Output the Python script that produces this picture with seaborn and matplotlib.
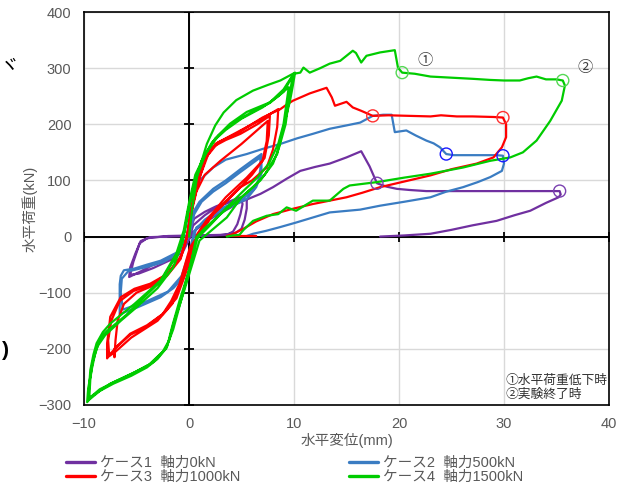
import matplotlib
matplotlib.use("Agg")
import matplotlib.pyplot as plt
import pandas as pd
import seaborn as sns
from matplotlib.lines import Line2D

# ---------------- data ----------------
case_labels = ["ケース1  軸力0kN", "ケース2  軸力500kN", "ケース3  軸力1000kN", "ケース4  軸力1500kN"]
case_colors = ["#7030A0", "#3A7CC2", "#FF0000", "#00CC00"]
marker_colors = ["#7A40B0", "#1A1AFF", "#FF3030", "#55D855"]

case1_x = [0, 0.2, 0.5, 1.5, 2.6, 3.9, 4.9, 5.1, 4.9, 4.6, 4.2, 3.6, 2.0, 0.0, -2.0, -3.7, -4.6, -5.1, -5.6, -5.7,
           -4.6, -3.6, -1.7, -0.5, 0.4, 1.5, 2.6, 3.8, 4.7, 5.5,
           5.5, 5.3, 5.0, 4.4, 3.0, 0.5, -2.0, -4.0, -4.7, -5.3, -5.6, -4.8, -3.4, -1.8, -0.6, 0.0,
           0.4, 1.5, 2.6, 4.0, 5.5, 6.8, 8.0, 9.3, 10.6, 12.0, 13.4, 15.0, 16.4, 17.2, 17.9, 18.8, 19.8, 21.0, 22.6,
           25.0, 28.0, 31.0, 33.0, 35.3, 35.4, 35.2, 34.0, 32.5, 31.0, 29.3, 27.0, 25.0, 23.0, 20.5, 18.2]
case1_y = [0, 18, 32, 44, 54, 63, 70, 58, 40, 22, 9, 3, 2, 1, 0, -1, -8, -30, -55, -72,
           -62, -52, -37, -20, 8, 25, 38, 50, 60, 66,
           50, 30, 14, 6, 3, 2, 1, -3, -12, -45, -68, -66, -56, -42, -28, -5,
           20, 38, 52, 62, 66, 76, 88, 103, 117, 124, 130, 141, 152, 125, 95, 89, 85, 83, 81,
           81, 81, 81, 81, 81, 75, 70, 60, 46, 38, 28, 20, 12, 5, 2, 0]

case2_x = [0, 0.3, 1.0, 2.3, 3.5, 4.9, 6.0, 6.9, 6.9, 6.9, 6.4, 5.5, 4.2, 3.0, 1.8, 0.7, 0.2, -0.5, -1.5, -2.7, -4.9, -6.6,
           -6.6, -6.6, -6.5, -6.2, -5.2, -4.0, -2.7, -0.8, 0.0, 0.5, 1.2, 2.3, 3.5, 4.9, 6.0, 6.8,
           6.8, 6.6, 6.2, 5.0, 3.0, 1.5, 0.5, 0.0, -0.7, -2.0, -4.0, -6.3, -6.5, -6.4, -5.8, -4.0, -2.5, -1.0, -0.2,
           0.0, 0.2, 1.0, 2.3, 3.5, 5.5, 7.0, 8.7, 10.3, 11.8, 13.4, 15.0, 16.3, 17.5, 18.5, 19.3, 19.6, 20.7, 21.6,
           22.6, 23.3, 23.9, 24.5, 25.2, 27.0, 29.3, 29.9, 30.0, 29.8, 28.7, 27.5, 26.1, 24.5, 23.0, 20.5, 18.2, 16.3,
           13.4, 11.8, 10.2, 8.7, 7.3, 6.1, 5.5]
case2_y = [0, 40, 62, 85, 100, 120, 135, 147, 130, 112, 88, 67, 55, 46, 30, 16, -20, -72, -92, -108, -126, -138,
           -110, -85, -70, -60, -57, -50, -43, -25, 0, 40, 62, 80, 95, 115, 130, 141,
           120, 100, 85, 65, 50, 30, 10, -30, -70, -98, -115, -130, -100, -75, -62, -54, -46, -30, 0,
           30, 70, 100, 123, 137, 147, 156, 165, 175, 183, 192, 198, 203, 215, 217, 217, 186, 189, 180,
           171, 166, 159, 147, 145, 145, 145, 144, 130, 117, 106, 97, 88, 80, 70, 62, 55, 48,
           43, 34, 25, 17, 10, 5, 1]

case3_x = [0, 0.2, 0.7, 1.5, 3.0, 5.0, 7.5,
           7.4, 7.0, 5.5, 3.5, 1.7, 0.8, 0.3, -0.4, -1.2, -2.5, -4.0, -5.6, -7.1, -7.1,
           -7.0, -6.8, -6.2, -5.0, -3.5, -2.1, -0.8, -0.2,
           0.2, 0.8, 1.4, 2.3, 3.5, 4.9, 6.5, 7.7,
           7.6, 7.2, 6.0, 4.9, 3.5, 2.3, 1.0, 0.1, -0.9, -1.7, -2.5, -4.0, -5.6, -6.8, -7.5, -7.8,
           -7.8, -7.6, -7.5, -6.5, -5.2, -3.7, -2.1, -0.8, -0.2,
           0.3, 1.0, 1.6, 2.5, 4.5, 6.5, 8.5,
           8.4, 8.0, 7.4, 6.0, 4.9, 3.5, 2.3, 1.0, 0.2, -0.7, -1.6, -3.0, -5.5, -7.0, -7.6,
           -7.7, -7.4, -6.6, -5.3, -3.6, -2.0, -0.7, -0.1,
           0.4, 1.1, 1.8, 2.8, 4.5, 7.0, 8.7,
           9.3, 9.9, 11.5, 13.1, 13.6, 13.9, 15.0, 15.6, 16.4, 17.5, 19.0, 21.0, 23.0, 24.0, 25.5, 27.0, 29.0, 29.9,
           30.2, 30.2, 29.8, 29.0, 27.4, 25.0, 23.0, 20.5, 18.2, 16.5, 15.0, 13.4, 11.8, 10.0, 8.0, 6.4, 5.0, 4.0,
           3.6, 5.0, 6.4]
case3_y = [0, 40, 80, 110, 135, 165, 206,
           170, 135, 105, 70, 30, 5, -30, -70, -110, -138, -158, -173, -200, -215,
           -185, -150, -120, -100, -88, -70, -40, 0,
           50, 100, 135, 160, 172, 183, 200, 215,
           180, 140, 110, 88, 62, 40, 5, -19, -84, -115, -138, -160, -175, -195, -209, -217,
           -190, -160, -143, -108, -93, -84, -67, -37, -1,
           55, 105, 140, 165, 185, 205, 227,
           195, 155, 123, 100, 88, 62, 40, 5, -25, -80, -120, -150, -180, -205, -213,
           -185, -150, -115, -97, -86, -66, -33, 5,
           60, 110, 145, 168, 183, 212, 227,
           235, 242, 255, 265, 248, 233, 240, 230, 224, 215, 216, 215, 214, 216, 214, 214, 213, 212,
           200, 177, 159, 141, 130, 120, 109, 98, 88, 78, 70, 64, 58, 50, 40, 27, 12, 3,
           1, 1, 1]

case4_x = [0, 0.3, 0.8, 1.7, 2.5, 3.3, 4.5, 6.1, 7.5, 8.7, 10.1,
           9.9, 9.6, 9.3, 8.8, 8.4, 7.2, 6.1, 4.5, 3.0, 1.5, 0.7, 0.1, -0.9, -1.6, -2.1, -3.0, -4.0, -5.5, -7.2, -8.5, -9.6,
           -9.5, -9.4, -9.1, -8.8, -8.2, -7.5, -5.2, -4.0, -2.7, -1.2, -0.5, 0.0, 0.6, 1.5, 2.5, 3.9, 5.5, 7.7, 9.0, 9.9,
           9.6, 9.2, 8.6, 8.0, 6.8, 5.0, 3.6, 2.2, 1.0, 0.3, -0.6, -1.4, -1.9, -2.5, -3.8, -5.5, -7.0, -8.5, -9.5,
           -9.4, -9.2, -8.7, -8.0, -6.5, -5.0, -3.0, -1.5, -0.6, -0.1, 0.5, 1.2, 2.2, 3.5, 5.0, 7.0, 8.5, 9.5,
           9.3, 9.0, 8.5, 7.6, 6.5, 5.0, 3.5, 2.0, 0.8, 0.2, -0.7, -1.5, -2.2, -3.5, -5.0, -7.5, -9.3, -9.7,
           -9.6, -9.3, -8.9, -8.4, -7.8, -6.0, -4.5, -2.7, -1.2, -0.4, 0.1, 0.7, 1.6, 2.8, 4.0, 6.0, 7.7, 9.0, 10.0,
           10.6, 10.9, 11.5, 12.5, 13.4, 14.4, 15.6, 15.9, 16.4, 16.9, 18.2, 19.6, 19.9, 20.3, 21.5, 23.0, 25.0, 27.0,
           28.7, 30.0, 31.5, 32.3, 33.1, 34.0, 35.0, 35.6, 35.8, 35.5, 34.4, 33.1, 31.8, 30.6, 28.7, 26.1, 23.0, 20.5,
           17.9, 15.3, 14.7, 13.4, 11.8, 10.2, 9.3, 8.5, 7.4, 6.1, 5.2, 4.8, 4.2, 3.6]
case4_y = [0, 50, 110, 165, 198, 221, 243, 260, 270, 278, 292,
           270, 240, 218, 180, 147, 110, 88, 62, 40, 15, -1, -55, -114, -160, -197, -218, -233, -248, -262, -275, -292,
           -265, -238, -210, -190, -170, -155, -120, -100, -78, -30, 11, 60, 110, 145, 175, 201, 222, 239, 262, 288,
           255, 200, 160, 130, 100, 70, 34, 12, -7, -50, -105, -150, -185, -205, -228, -245, -258, -272, -288,
           -255, -225, -195, -176, -150, -126, -92, -55, -10, 45, 95, 135, 168, 190, 210, 230, 250, 266,
           240, 200, 165, 130, 105, 78, 50, 20, -3, -45, -110, -165, -200, -225, -240, -262, -285, -295,
           -270, -240, -205, -180, -168, -140, -112, -80, -35, 10, 60, 105, 148, 180, 200, 222, 238, 258, 290,
           292, 301, 292, 300, 308, 313, 331, 327, 310, 322, 328, 332, 301, 292, 290, 285, 283, 281,
           279, 278, 278, 282, 285, 280, 280, 278, 269, 242, 206, 171, 150, 141, 135, 123, 112, 105,
           97, 91, 85, 64, 64, 46, 52, 40, 37, 28, 12, 3, 2, 0]

# load-drop (①) and test-end (②) points
marker_x = [17.9, 35.3, 24.5, 29.9, 17.5, 29.9, 20.3, 35.6]
marker_y = [95, 81, 147, 144, 215, 212, 292, 278]
marker_case = [0, 0, 1, 1, 2, 2, 3, 3]

x_ticks = [-10, 0, 10, 20, 30, 40]
y_ticks = [-300, -200, -100, 0, 100, 200, 300, 400]
x_label = "水平変位(mm)"
y_label = "水平荷重(kN)"
note_lines = ["①水平荷重低下時", "②実験終了時"]

# ---------------- build frame ----------------
all_x = [case1_x, case2_x, case3_x, case4_x]
all_y = [case1_y, case2_y, case3_y, case4_y]
frames = []
for lab, xs, ys in zip(case_labels, all_x, all_y):
    frames.append(pd.DataFrame({"x": xs, "y": ys, "case": lab, "order": range(len(xs))}))
df = pd.concat(frames, ignore_index=True)

sns.set_theme(style="white")
plt.rcParams["font.family"] = ["Liberation Sans", "Noto Sans CJK JP", "DejaVu Sans"]

fig = plt.figure(figsize=(6.25, 4.88), dpi=100)
ax = fig.add_axes([84 / 625, 1 - 405 / 488, 525 / 625, 393 / 488])

ax.set_axisbelow(True)
ax.grid(True, color="#d9d9d9", lw=1.0)

sns.lineplot(data=df, x="x", y="y", hue="case", hue_order=case_labels, palette=case_colors,
             sort=False, estimator=None, lw=1.6, legend=False, ax=ax, zorder=3)

for ci in range(4):
    mx = [marker_x[i] for i in range(len(marker_x)) if marker_case[i] == ci]
    my = [marker_y[i] for i in range(len(marker_y)) if marker_case[i] == ci]
    sns.scatterplot(x=mx, y=my, color=marker_colors[ci], facecolor="none", edgecolor=marker_colors[ci],
                    s=75, linewidth=1.0, ax=ax, zorder=4)

# center axes with cross ticks
ax.axhline(0, color="black", lw=1.4, zorder=2)
ax.axvline(0, color="black", lw=1.4, zorder=2)
ax.plot(x_ticks, [0] * len(x_ticks), ls="none", marker="|", ms=7, mew=1.3, color="black", zorder=2)
ax.plot([0] * len(y_ticks), y_ticks, ls="none", marker="_", ms=7, mew=1.3, color="black", zorder=2)

ax.set_xlim(-10, 40)
ax.set_ylim(-300, 400)
ax.set_xticks(x_ticks)
ax.set_yticks(y_ticks)
ax.tick_params(length=0, labelsize=10.5, labelcolor="#595959")
ax.tick_params(axis="y", pad=9)
ax.tick_params(axis="x", pad=9)
for sp in ax.spines.values():
    sp.set_color("black")
    sp.set_linewidth(1.2)

ax.set_xlabel(x_label, fontsize=10.5, color="#595959")
ax.set_ylabel(y_label, fontsize=10.5, color="#595959")
ax.xaxis.set_label_coords(0.5, -0.072)
ax.yaxis.set_label_coords(-0.088, 0.5)

# circled annotations
ax.text(22.5, 313, "①", fontsize=11, color="#404040", ha="center", va="center", zorder=5)
ax.text(37.7, 301, "②", fontsize=11, color="#404040", ha="center", va="center", zorder=5)
ax.text(30.15, -257, note_lines[0], fontsize=9.2, color="#303030", ha="left", va="center", zorder=5)
ax.text(30.15, -281, note_lines[1], fontsize=9.2, color="#303030", ha="left", va="center", zorder=5)

# legend (two columns)
handles = [Line2D([], [], color=c, lw=2.4) for c in case_colors]
leg_kw = dict(frameon=False, fontsize=10.5, handlelength=2.0, handletextpad=0.3, labelspacing=0.0,
              borderpad=0, borderaxespad=0, labelcolor="#595959")
fig.legend([handles[0], handles[2]], [case_labels[0], case_labels[2]], loc="upper left",
           bbox_to_anchor=(66 / 625, 1 - 456 / 488), **leg_kw)
fig.legend([handles[1], handles[3]], [case_labels[1], case_labels[3]], loc="upper left",
           bbox_to_anchor=(349 / 625, 1 - 456 / 488), **leg_kw)

# glyph fragments at the left edge of the source image
fig.text(0 / 625, 1 - 67 / 488, "ヾ", fontsize=14, color="black", ha="left", va="center")
fig.text(2 / 625, 1 - 351 / 488, ")", fontsize=15, fontweight="bold", color="black", ha="left", va="center")

fig.savefig("out.png", dpi=100)
